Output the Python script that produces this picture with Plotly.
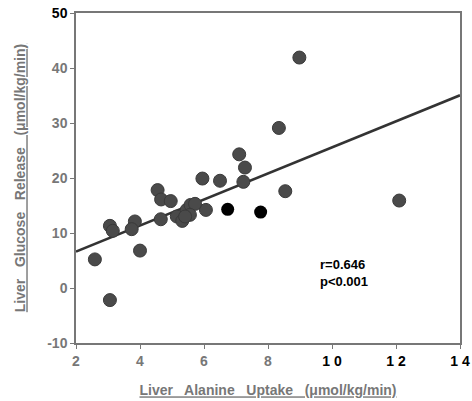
import plotly.graph_objects as go

# Data
alanine_uptake = [8.98, 8.34, 12.1, 7.10, 7.28, 7.23, 8.54, 5.95, 6.50, 6.06,
                  4.55, 4.66, 4.96, 4.65, 5.15, 5.32, 5.46, 5.58, 5.72, 5.56,
                  5.41, 3.06, 3.15, 3.84, 3.74, 4.00, 2.59, 3.06]
glucose_release = [41.9, 29.1, 15.9, 24.3, 21.9, 19.3, 17.6, 19.9, 19.5, 14.2,
                   17.8, 16.1, 15.8, 12.5, 13.0, 12.2, 14.2, 15.1, 15.3, 13.3,
                   13.0, 11.3, 10.4, 12.1, 10.7, 6.8, 5.2, -2.2]
highlight_uptake = [6.74, 7.77]
highlight_release = [14.3, 13.8]

fit_slope = 2.37
fit_intercept = 1.86
fit_range = [2, 14]

x_ticks = [2, 4, 6, 8, 10, 12, 14]
x_ticktext = ["<b>2</b>", "<b>4</b>", "<b>6</b>", "<b>8</b>",
              "<b><span style='color:#000'>1 0</span></b>",
              "<b><span style='color:#000'>1 2</span></b>",
              "<b><span style='color:#000'>1 4</span></b>"]
y_ticks = [-10, 0, 10, 20, 30, 40, 50]
y_ticktext = ["<b>-10</b>", "<b>0</b>", "<b>10</b>", "<b>20</b>", "<b>30</b>", "<b>40</b>",
              "<b><span style='color:#000'>50</span></b>"]

fit_y = [fit_intercept + fit_slope * v for v in fit_range]

fig = go.Figure()
fig.add_trace(go.Scatter(
    x=fit_range, y=fit_y, mode="lines",
    line=dict(color="#333333", width=2.5), hoverinfo="skip"))
fig.add_trace(go.Scatter(
    x=alanine_uptake, y=glucose_release, mode="markers",
    marker=dict(size=13, color="#4a4a4a", line=dict(color="#3a3a3a", width=1))))
fig.add_trace(go.Scatter(
    x=highlight_uptake, y=highlight_release, mode="markers",
    marker=dict(size=13, color="#000000")))

fig.add_annotation(x=9.55, y=2.8, xref="x", yref="y", xanchor="left", yanchor="middle",
                   text="<b>r=0.646<br>p<0.001</b>", showarrow=False, align="left",
                   font=dict(family="Liberation Sans, Arial", size=13, color="#000"))

axis_common = dict(showline=True, linecolor="#777777", linewidth=1.5, mirror=True,
                   ticks="outside", ticklen=4, tickcolor="#777777", showgrid=False,
                   zeroline=False, automargin=False, ticklabeloverflow="allow",
                   tickfont=dict(family="Liberation Sans, Arial", size=14, color="#777777"))

title_font = dict(family="Liberation Sans, Arial", size=14, color="#777777")

fig.update_xaxes(range=[2, 14], tickvals=x_ticks, ticktext=x_ticktext,
                 title=dict(text="<b><u>Liver   Alanine   Uptake   (μmol/kg/min)</u></b>",
                            font=title_font, standoff=18),
                 **axis_common)
fig.update_yaxes(range=[-10, 50], tickvals=y_ticks, ticktext=y_ticktext,
                 title=dict(text="<b><u>Liver   Glucose   Release   (μmol/kg/min)</u></b>",
                            font=title_font, standoff=18),
                 **axis_common)

fig.update_layout(width=472, height=401, showlegend=False,
                  plot_bgcolor="white", paper_bgcolor="white",
                  margin=dict(l=76, r=12, t=13, b=58, autoexpand=False))

fig.write_html("out.html", config={"displayModeBar": False},
               post_script="document.body.style.margin='0';document.body.style.overflow='hidden';")
